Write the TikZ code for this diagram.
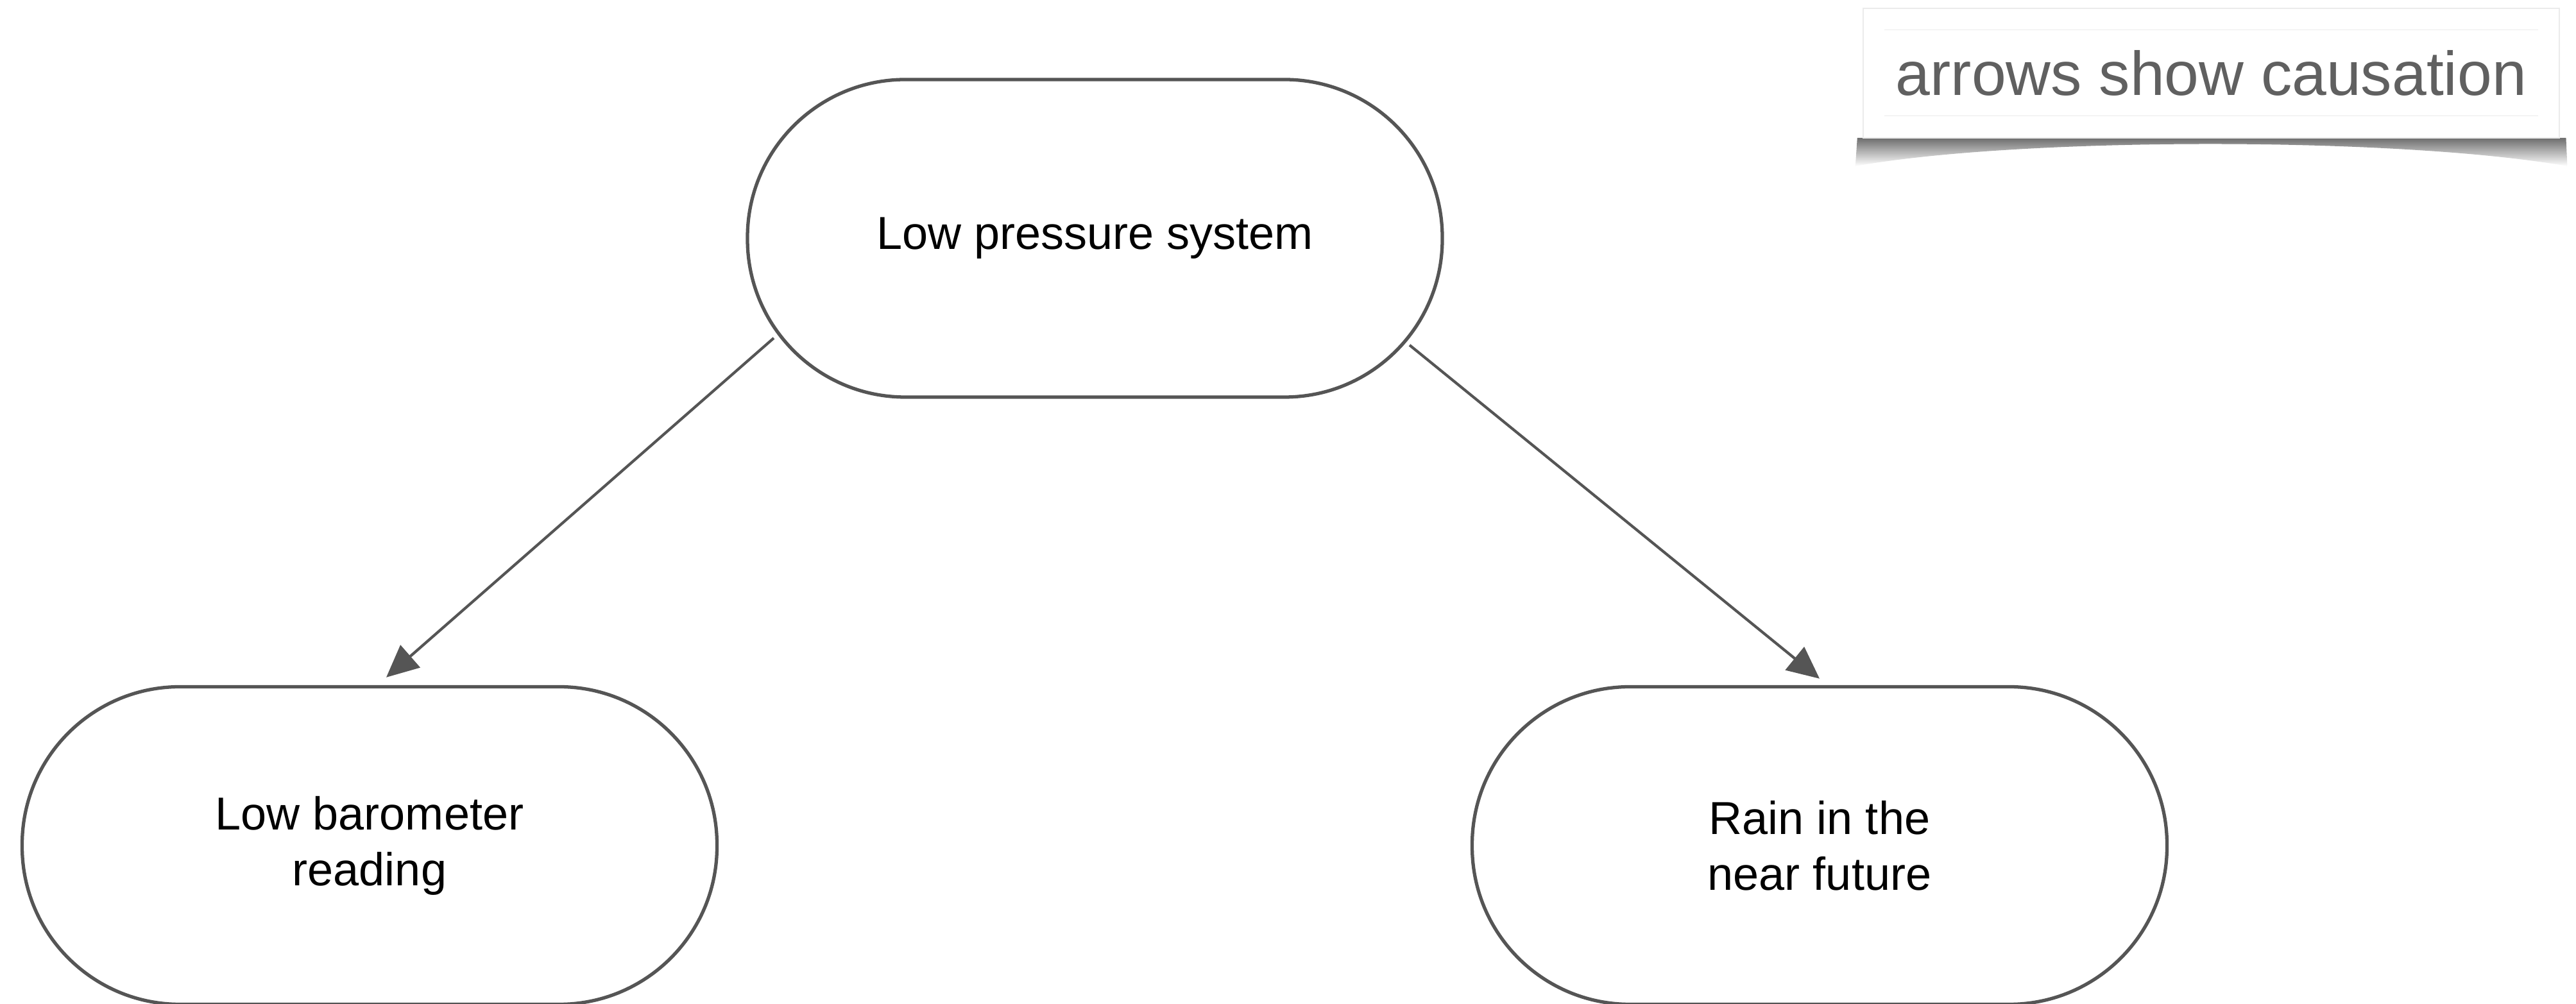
\documentclass[tikz,border=0pt]{standalone}
\usepackage{fontspec}
\setmainfont{Liberation Sans}
\usetikzlibrary{arrows.meta,positioning,fadings}
\definecolor{edgegray}{HTML}{555555}
\definecolor{notegray}{HTML}{606060}
\begin{document}
\begin{tikzpicture}[
  evt/.style={draw=edgegray, line width=1.5pt, rounded corners=2.46cm, fill=white, align=center,
    minimum width=10.83cm, minimum height=4.95cm, font=\fontsize{20.5}{24.7}\selectfont},
  note/.style={draw=black!8, line width=0.4pt, fill=white, minimum width=10.85cm, minimum height=2.02cm,
    text=notegray, font=\fontsize{27.5}{33}\selectfont},
  arr/.style={-{Triangle[length=5mm, width=4.6mm]}, draw=edgegray, fill=edgegray, line width=1.2pt}
]
\useasboundingbox (0,0) rectangle (40.15,15.65);

\node[evt] (lps) at (17.065,11.935) {Low pressure system};
\node[evt] (lbr) at (5.76,2.47) {Low barometer\\reading};
\node[evt] (rnf) at (28.36,2.47) {Rain in the\\near future};

\draw[arr] ([shift={(-5.005,-1.555)}]lps.center) -- ([shift={(0.26,0.12)}]lbr.north);
\draw[arr] ([shift={(4.905,-1.665)}]lps.center) -- ([shift={(0,0.10)}]rnf.north);

% legend note with curled shadow
\shade[left color=black!60, middle color=black!25, right color=black!60, path fading=south]
  (28.95,13.50) -- (28.92,13.06) .. controls (31.5,13.52) and (37.4,13.52) .. (40.02,13.06)
  -- (40.0,13.50) -- cycle;
\node[note] (cap) at (34.465,14.51) {arrows show causation};
\draw[black!8, line width=0.4pt] ([shift={(0.34,-0.34)}]cap.north west) -- ([shift={(-0.34,-0.34)}]cap.north east);
\draw[black!8, line width=0.4pt] ([shift={(0.34,0.35)}]cap.south west) -- ([shift={(-0.34,0.35)}]cap.south east);
\end{tikzpicture}
\end{document}
